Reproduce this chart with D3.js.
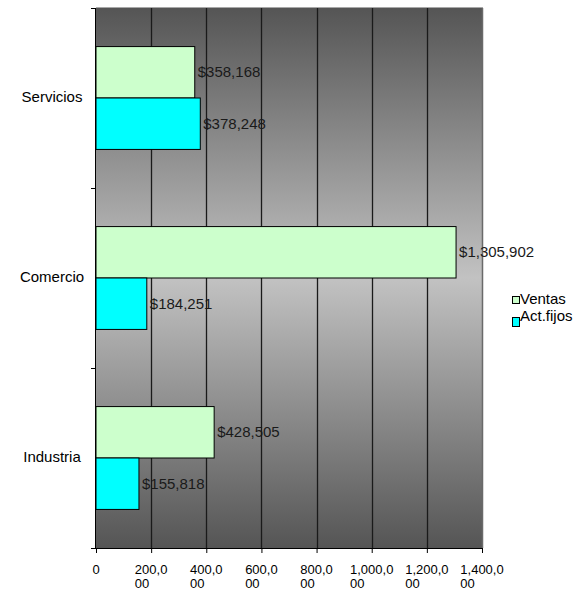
<!DOCTYPE html>
<html>
<head>
<meta charset="utf-8">
<script src="https://cdn.jsdelivr.net/npm/d3@7/dist/d3.min.js"></script>
<style>
  html, body { margin: 0; padding: 0; background: #fff; }
  svg { display: block; font-family: "Liberation Sans", Arial, sans-serif; }
</style>
</head>
<body>
<svg id="chart" width="577" height="591"></svg>
<script>
// Sector figures
const categories = ["Servicios", "Comercio", "Industria"];
const seriesNames = ["Ventas", "Act.fijos"];
const ventas = [358168, 1305902, 428505];
const actFijos = [378248, 184251, 155818];
const xTicks = [0, 200000, 400000, 600000, 800000, 1000000, 1200000, 1400000];
const seriesColors = ["#ccffcc", "#00ffff"];

const svg = d3.select("#chart");
const plot = { left: 96, top: 8, right: 482, bottom: 548 };

const x = d3.scaleLinear().domain([0, 1400000]).range([plot.left, plot.right]);
const y = d3.scaleBand().domain(categories).range([plot.top, plot.bottom]).paddingInner(0).paddingOuter(0);
// Two bars per category with a 150% gap
const inner = d3.scaleBand().domain(seriesNames).range([0, y.bandwidth()])
  .paddingInner(0).paddingOuter(0.75);

// Plot background gradient
const defs = svg.append("defs");
const grad = defs.append("linearGradient").attr("id", "bg").attr("x1", 0).attr("y1", 0).attr("x2", 0).attr("y2", 1);
grad.append("stop").attr("offset", "0%").attr("stop-color", "#555555");
grad.append("stop").attr("offset", "50%").attr("stop-color", "#c2c2c2");
grad.append("stop").attr("offset", "100%").attr("stop-color", "#555555");

svg.append("rect")
  .attr("x", plot.left).attr("y", plot.top)
  .attr("width", plot.right - plot.left).attr("height", plot.bottom - plot.top)
  .attr("fill", "url(#bg)");

// Plot border (top light, right darker)
svg.append("line").attr("x1", plot.left).attr("x2", plot.right + 1)
  .attr("y1", plot.top - 0.5).attr("y2", plot.top - 0.5)
  .attr("stroke", "#a8a8a8").attr("stroke-width", 1);
svg.append("line").attr("x1", plot.right + 0.5).attr("x2", plot.right + 0.5)
  .attr("y1", plot.top).attr("y2", plot.bottom)
  .attr("stroke", "#6a6a6a").attr("stroke-width", 1.5);

// Vertical gridlines
svg.append("g").selectAll("line")
  .data(xTicks.slice(1, -1))
  .join("line")
  .attr("x1", d => Math.round(x(d)) + 0.5).attr("x2", d => Math.round(x(d)) + 0.5)
  .attr("y1", plot.top).attr("y2", plot.bottom)
  .attr("stroke", "#1a1a1a").attr("stroke-width", 1.3);

// Bars
const rows = categories.map((c, i) => ({ cat: c, values: [ventas[i], actFijos[i]] }));
const groups = svg.append("g").selectAll("g")
  .data(rows).join("g")
  .attr("transform", d => `translate(0,${y(d.cat)})`);

groups.selectAll("rect")
  .data(d => d.values.map((v, j) => ({ v, s: seriesNames[j], j })))
  .join("rect")
  .attr("x", x(0))
  .attr("y", d => inner(d.s))
  .attr("width", d => x(d.v) - x(0))
  .attr("height", inner.bandwidth())
  .attr("fill", d => seriesColors[d.j])
  .attr("stroke", "#000").attr("stroke-width", 1);

// Value labels
const money = v => "$" + d3.format(",")(v);
groups.selectAll("text")
  .data(d => d.values.map((v, j) => ({ v, s: seriesNames[j] })))
  .join("text")
  .attr("x", d => x(d.v) + 3)
  .attr("y", d => inner(d.s) + inner.bandwidth() / 2 + 5)
  .attr("font-size", "15px")
  .attr("fill", "#1a1a1a")
  .text(d => money(d.v));

// Left axis
const yAxis = d3.axisLeft(y).tickSize(0).tickFormat("");
svg.append("line").attr("x1", plot.left - 0.5).attr("x2", plot.left - 0.5)
  .attr("y1", plot.top).attr("y2", plot.bottom).attr("stroke", "#000");
const bounds = [plot.top].concat(categories.map(c => y(c) + y.bandwidth()));
svg.append("g").selectAll("line").data(bounds).join("line")
  .attr("x1", plot.left - 5).attr("x2", plot.left)
  .attr("y1", d => d + 0.5).attr("y2", d => d + 0.5)
  .attr("stroke", "#000");

// Category labels
svg.append("g").selectAll("text").data(categories).join("text")
  .attr("x", 52)
  .attr("y", d => y(d) + y.bandwidth() / 2 + 4)
  .attr("text-anchor", "middle")
  .attr("font-size", "15px")
  .attr("fill", "#000")
  .text(d => d);

// Bottom axis
const xAxis = d3.axisBottom(x).tickValues(xTicks).tickSize(5).tickFormat("");
const xg = svg.append("g").attr("transform", `translate(0,${plot.bottom})`).call(xAxis);
xg.select(".domain").attr("stroke", "#000").attr("d", `M${plot.left - 1},0.5H${plot.right + 1}`);
xg.selectAll(".tick line").attr("stroke", "#000");

// Wrapped tick labels
const fmt = d3.format(",");
xTicks.forEach(t => {
  const s = fmt(t);
  const lines = s.length > 2 ? [s.slice(0, -2), s.slice(-2)] : [s];
  const txt = svg.append("text")
    .attr("font-size", "13px").attr("fill", "#000");
  lines.forEach((l, i) => {
    txt.append("tspan").attr("y", 574 + i * 14).text(l);
  });
  const w = txt.select("tspan").node().getComputedTextLength();
  txt.selectAll("tspan").attr("x", x(t) - w / 2);
});

// Legend
const legend = svg.append("g");
const legendRows = [
  { name: seriesNames[0], color: seriesColors[0], sy: 296, sh: 7, ty: 304 },
  { name: seriesNames[1], color: seriesColors[1], sy: 317, sh: 9, ty: 321 }
];
legendRows.forEach(r => {
  legend.append("rect").attr("x", 512.5).attr("y", r.sy + 0.5)
    .attr("width", 7).attr("height", r.sh)
    .attr("fill", r.color).attr("stroke", "#000").attr("stroke-width", 1);
  legend.append("text").attr("x", 520).attr("y", r.ty)
    .attr("font-size", "15px").attr("fill", "#000").text(r.name);
});
</script>
</body>
</html>
